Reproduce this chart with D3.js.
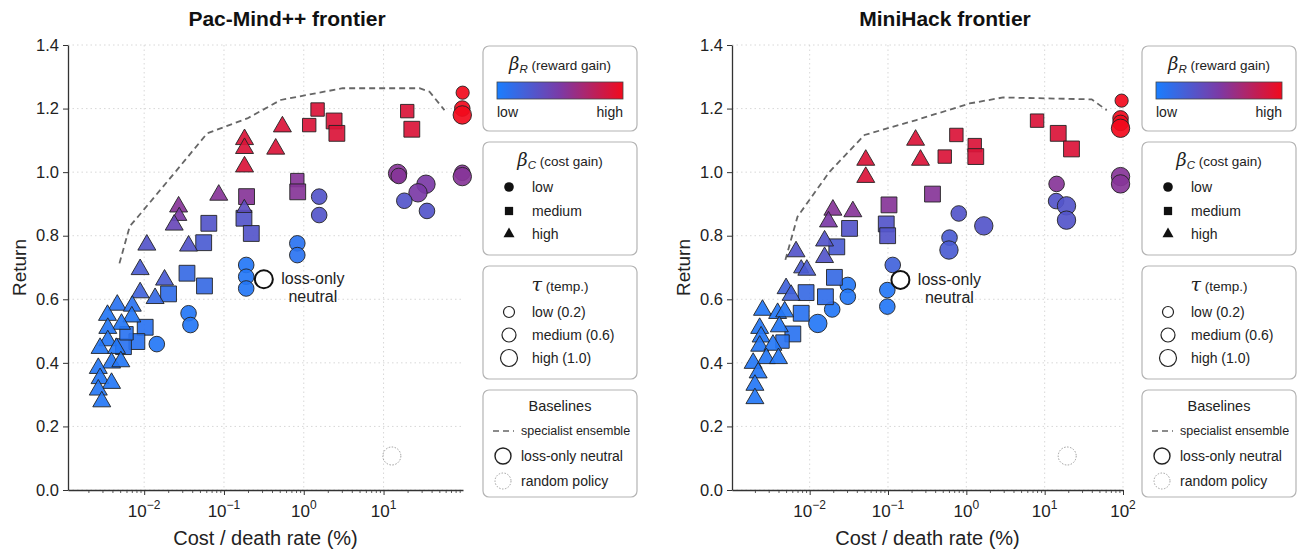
<!DOCTYPE html>
<html>
<head>
<meta charset="utf-8">
<script src="https://cdn.jsdelivr.net/npm/d3@7"></script>
<style>
  body { margin: 0; background: #fff; }
  svg { font-family: "Liberation Sans", Arial, sans-serif; }
</style>
</head>
<body>
<div id="chart"></div>
<script>
// ---- data ----
// shape: 0 circle, 1 square, 2 triangle ; col: beta_R level 0..1 ; tau: 0 low, 1 medium, 2 high
var pmCost  = [98, 97, 97, 97, 97, 15, 15.5, 34, 27, 18.2, 35, 1.56, 1.56, 0.83, 0.83, 0.19, 0.19, 0.19, 0.036, 0.038, 0.0144,
               19.8, 22.6, 1.49, 1.17, 2.4, 2.6, 0.83, 0.84, 0.192, 0.178, 0.22, 0.0646, 0.0557, 0.0344, 0.057, 0.0202, 0.0103, 0.0081, 0.0055, 0.006,
               0.54, 0.445, 0.181, 0.181, 0.181, 0.086, 0.027, 0.0275, 0.0238, 0.18, 0.0108, 0.036, 0.0089, 0.018, 0.0089, 0.0137, 0.0046, 0.0071,
               0.00347, 0.007, 0.0052, 0.0035, 0.0035, 0.0028, 0.0045, 0.0039, 0.0051, 0.00266, 0.0028, 0.0039, 0.00266, 0.00294];
var pmReturn = [1.25, 1.2, 1.18, 0.998, 0.986, 0.996, 0.988, 0.962, 0.935, 0.91, 0.878, 0.923, 0.865, 0.776, 0.739, 0.708, 0.671, 0.634, 0.556, 0.519, 0.459,
               1.192, 1.135, 1.197, 1.148, 1.161, 1.122, 0.975, 0.938, 0.923, 0.855, 0.807, 0.839, 0.778, 0.682, 0.642, 0.617, 0.512, 0.467, 0.451, 0.493,
               1.143, 1.073, 1.103, 1.075, 1.017, 0.928, 0.891, 0.862, 0.834, 0.887, 0.771, 0.768, 0.694, 0.661, 0.621, 0.603, 0.582, 0.579,
               0.55, 0.545, 0.522, 0.509, 0.47, 0.446, 0.446, 0.4, 0.404, 0.383, 0.351, 0.336, 0.315, 0.278];
var pmShape = [0,0,0,0,0,0,0,0,0,0,0,0,0,0,0,0,0,0,0,0,0,
               1,1,1,1,1,1,1,1,1,1,1,1,1,1,1,1,1,1,1,1,
               2,2,2,2,2,2,2,2,2,2,2,2,2,2,2,2,2,2,2,2,2,2,2,2,2,2,2,2,2,2,2,2];
var pmCol   = [1, 1, 1, 0.55, 0.55, 0.55, 0.55, 0.5, 0.5, 0.3, 0.3, 0.3, 0.3, 0.08, 0.08, 0.05, 0.05, 0.05, 0.05, 0.05, 0.05,
               0.9, 0.9, 0.9, 0.9, 0.9, 0.9, 0.55, 0.55, 0.55, 0.3, 0.3, 0.3, 0.25, 0.15, 0.15, 0.12, 0.08, 0.08, 0.08, 0.08,
               0.9, 0.9, 0.9, 0.9, 0.9, 0.55, 0.55, 0.5, 0.4, 0.35, 0.3, 0.3, 0.25, 0.25, 0.2, 0.15, 0.08, 0.08,
               0.05, 0.05, 0.05, 0.05, 0.05, 0.05, 0.05, 0.05, 0.05, 0.05, 0.05, 0.05, 0.05, 0.05];
var pmTau   = [0,1,2,1,2,2,1,2,2,1,1,1,1,1,1,1,1,1,1,1,1,
               1,2,1,1,2,2,1,2,2,2,2,2,2,2,2,2,2,2,2,1,
               1,1,1,1,1,1,1,0,1,0,1,1,1,1,1,1,1,1,1,1,1,1,1,1,1,1,1,1,1,1,1,1];

var mhCost  = [96, 93, 93, 93, 93, 93, 14.2, 14, 19, 19, 0.8, 1.67, 0.61, 0.6, 0.115, 0.098, 0.098, 0.0307, 0.0307, 0.0194, 0.0127,
               8.0, 14.9, 22, 0.746, 1.28, 1.32, 0.53, 0.37, 0.103, 0.095, 0.099, 0.0323, 0.0222, 0.0207, 0.009, 0.0159, 0.0078, 0.0061, 0.0045,
               0.225, 0.26, 0.052, 0.052, 0.0198, 0.0356, 0.0174, 0.0155, 0.0155, 0.0067, 0.0078, 0.0092, 0.005, 0.0058,
               0.0025, 0.0039, 0.0048, 0.0041, 0.0023, 0.0024, 0.0023, 0.0034, 0.0028, 0.004, 0.0019, 0.0022, 0.002, 0.002];
var mhReturn = [1.225, 1.169, 1.155, 1.138, 0.986, 0.963, 0.963, 0.909, 0.894, 0.849, 0.87, 0.831, 0.794, 0.755, 0.708, 0.629, 0.577, 0.645, 0.608, 0.568, 0.524,
               1.162, 1.122, 1.073, 1.117, 1.085, 1.049, 1.049, 0.931, 0.897, 0.837, 0.8, 0.823, 0.765, 0.669, 0.621, 0.608, 0.556, 0.491, 0.467,
               1.101, 1.038, 1.038, 0.984, 0.881, 0.876, 0.844, 0.784, 0.732, 0.75, 0.697, 0.692, 0.634, 0.613,
               0.566, 0.556, 0.561, 0.514, 0.509, 0.482, 0.453, 0.456, 0.414, 0.414, 0.399, 0.369, 0.33, 0.288];
var mhShape = [0,0,0,0,0,0,0,0,0,0,0,0,0,0,0,0,0,0,0,0,0,
               1,1,1,1,1,1,1,1,1,1,1,1,1,1,1,1,1,1,1,
               2,2,2,2,2,2,2,2,2,2,2,2,2,2,2,2,2,2,2,2,2,2,2,2,2,2,2,2];
var mhCol   = [1, 1, 1, 1, 0.55, 0.55, 0.55, 0.3, 0.3, 0.3, 0.3, 0.3, 0.25, 0.25, 0.2, 0.05, 0.05, 0.05, 0.05, 0.05, 0.05,
               0.9, 0.9, 0.9, 0.9, 0.9, 0.9, 0.9, 0.55, 0.55, 0.3, 0.3, 0.3, 0.25, 0.15, 0.15, 0.12, 0.08, 0.08, 0.08,
               0.9, 0.9, 0.9, 0.9, 0.55, 0.55, 0.5, 0.3, 0.3, 0.3, 0.25, 0.25, 0.2, 0.2,
               0.05, 0.05, 0.05, 0.05, 0.05, 0.05, 0.05, 0.05, 0.05, 0.05, 0.05, 0.05, 0.05, 0.05];
var mhTau   = [0,1,1,2,2,2,1,1,2,2,1,2,1,2,1,1,1,1,1,1,2,
               1,2,2,1,1,2,1,2,2,2,2,2,2,2,2,2,2,2,1,
               1,1,1,1,1,1,1,1,1,1,0,1,1,1,1,1,1,1,1,1,1,1,1,1,1,1,1,1];

// specialist ensemble (dashed)
var pmEnsCost   = [0.0049, 0.0066, 0.0085, 0.0258, 0.0615, 0.196, 0.514, 3.07, 28.2, 37.7, 58];
var pmEnsReturn = [0.713, 0.83, 0.862, 1.007, 1.122, 1.169, 1.227, 1.264, 1.264, 1.253, 1.195];
var mhEnsCost   = [0.0049, 0.007, 0.0179, 0.0502, 0.23, 1.1, 2.95, 39.8, 62];
var mhEnsReturn = [0.724, 0.86, 1.001, 1.117, 1.164, 1.216, 1.235, 1.229, 1.195];

// baselines [cost, return]
var pmNeutral = [0.316, 0.663], pmRandom = [12.7, 0.107];
var mhNeutral = [0.144, 0.661], mhRandom = [19.4, 0.107];

var yTicks = [0, 0.2, 0.4, 0.6, 0.8, 1.0, 1.2, 1.4];
var titles = ["Pac-Mind++ frontier", "MiniHack frontier"];

// ---- drawing ----
var W = 1299, H = 552;
var svg = d3.select("#chart").append("svg").attr("width", W).attr("height", H);

var color = d3.scaleLinear().domain([0, 0.5, 1]).range(["#1a7eff", "#7b3aa6", "#f20a1c"]).interpolate(d3.interpolateRgb);
var tauR = [6.6, 7.8, 9.2];

function sym(shape, r) {
  if (shape === 0) return d3.symbol(d3.symbolCircle, Math.PI * r * r)();
  if (shape === 1) return d3.symbol(d3.symbolSquare, Math.pow(1.72 * r, 2))();
  return d3.symbol(d3.symbolTriangle, 2.3 * r * r)();
}

var panels = [
  {left: 68, right: 463, dom: [0.00111, 99], majors: [0.01, 0.1, 1, 10], title: titles[0], titleX: 287, legX: 483,
   cost: pmCost, ret: pmReturn, shape: pmShape, col: pmCol, tau: pmTau,
   ensC: pmEnsCost, ensR: pmEnsReturn, neutral: pmNeutral, random: pmRandom},
  {left: 732, right: 1123, dom: [0.00102, 100], majors: [0.01, 0.1, 1, 10, 100], title: titles[1], titleX: 945, legX: 1142,
   cost: mhCost, ret: mhReturn, shape: mhShape, col: mhCol, tau: mhTau,
   ensC: mhEnsCost, ensR: mhEnsReturn, neutral: mhNeutral, random: mhRandom}
];
var plotTop = 45, plotBottom = 490;

panels.forEach(function(p) {
  var x = d3.scaleLog().domain(p.dom).range([p.left, p.right]);
  var y = d3.scaleLinear().domain([0, 1.4]).range([plotBottom, plotTop]);
  var g = svg.append("g");

  // grid
  g.selectAll(".gy").data(yTicks).enter().append("line")
    .attr("x1", p.left).attr("x2", p.right)
    .attr("y1", function(d) { return y(d); }).attr("y2", function(d) { return y(d); })
    .attr("stroke", "#d4d4d4").attr("stroke-width", 0.9).attr("stroke-dasharray", "1.5,3");
  g.selectAll(".gx").data(p.majors).enter().append("line")
    .attr("x1", function(d) { return x(d); }).attr("x2", function(d) { return x(d); })
    .attr("y1", plotTop).attr("y2", plotBottom)
    .attr("stroke", "#d4d4d4").attr("stroke-width", 0.9).attr("stroke-dasharray", "1.5,3");

  // minor x ticks
  var minors = [];
  for (var e = -3; e <= 1; e++) for (var k = 2; k <= 9; k++) {
    var v = k * Math.pow(10, e);
    if (v >= p.dom[0] && v <= p.dom[1]) minors.push(v);
  }
  var xMinor = g.append("g").attr("transform", "translate(0," + plotBottom + ")")
    .call(d3.axisBottom(x).tickValues(minors).tickFormat("").tickSize(3).tickSizeOuter(0));
  xMinor.select(".domain").remove();
  xMinor.selectAll("line").attr("stroke", "#333").attr("stroke-width", 0.8);

  // major x axis
  var xAx = g.append("g").attr("transform", "translate(0," + plotBottom + ")")
    .call(d3.axisBottom(x).tickValues(p.majors).tickFormat("").tickSize(5).tickSizeOuter(0));
  xAx.select(".domain").attr("stroke", "#333").attr("stroke-width", 1.3);
  xAx.selectAll("line").attr("stroke", "#333").attr("stroke-width", 1);
  p.majors.forEach(function(m) {
    var ex = Math.round(Math.log10(m));
    var t = g.append("text").attr("x", x(m)).attr("y", plotBottom + 27)
      .attr("text-anchor", "middle").attr("font-size", 17).attr("fill", "#222");
    t.append("tspan").text("10");
    t.append("tspan").attr("dy", -8).attr("font-size", 12).text(ex < 0 ? "\u2212" + (-ex) : String(ex));
  });

  // y axis
  var yAx = g.append("g").attr("transform", "translate(" + p.left + ",0)")
    .call(d3.axisLeft(y).tickValues(yTicks).tickFormat(d3.format(".1f")).tickSize(5).tickSizeOuter(0));
  yAx.select(".domain").attr("stroke", "#333").attr("stroke-width", 1.3);
  yAx.selectAll("line").attr("stroke", "#333");
  yAx.selectAll("text").attr("font-size", 16.5).attr("fill", "#222")
    .attr("font-family", "Liberation Sans, Arial, sans-serif").attr("dx", -1);

  // labels
  g.append("text").attr("transform", "translate(" + (p.left - 42) + "," + ((plotTop + plotBottom) / 2) + ") rotate(-90)")
    .attr("text-anchor", "middle").attr("font-size", 19).attr("fill", "#222").text("Return");
  g.append("text").attr("x", (p.left + p.right) / 2).attr("y", 545)
    .attr("text-anchor", "middle").attr("font-size", 20).attr("fill", "#222").text("Cost / death rate (%)");
  g.append("text").attr("x", p.titleX).attr("y", 26)
    .attr("text-anchor", "middle").attr("font-size", 21).attr("font-weight", "bold").attr("fill", "#111").text(p.title);

  // specialist ensemble
  var ens = p.ensC.map(function(c, i) { return [c, p.ensR[i]]; });
  g.append("path").datum(ens)
    .attr("d", d3.line().x(function(d) { return x(d[0]); }).y(function(d) { return y(d[1]); }))
    .attr("fill", "none").attr("stroke", "#666").attr("stroke-width", 1.8).attr("stroke-dasharray", "6,4");

  // points
  var pts = p.cost.map(function(c, i) {
    return {c: c, r: p.ret[i], s: p.shape[i], col: p.col[i], tau: p.tau[i]};
  });
  g.selectAll(".pt").data(pts).enter().append("path")
    .attr("transform", function(d) { return "translate(" + x(d.c) + "," + y(d.r) + ")"; })
    .attr("d", function(d) { return sym(d.s, tauR[d.tau]); })
    .attr("fill", function(d) { return color(d.col); })
    .attr("fill-opacity", 0.92)
    .attr("stroke", "#222").attr("stroke-width", 0.9);

  // baselines
  g.append("circle").attr("cx", x(p.neutral[0])).attr("cy", y(p.neutral[1])).attr("r", 9)
    .attr("fill", "#fff").attr("stroke", "#111").attr("stroke-width", 2);
  var lbl = g.append("text").attr("text-anchor", "middle").attr("font-size", 16).attr("fill", "#222");
  lbl.append("tspan").attr("x", x(p.neutral[0]) + 49).attr("y", y(p.neutral[1]) + 5).text("loss-only");
  lbl.append("tspan").attr("x", x(p.neutral[0]) + 49).attr("y", y(p.neutral[1]) + 23).text("neutral");
  g.append("circle").attr("cx", x(p.random[0])).attr("cy", y(p.random[1])).attr("r", 9)
    .attr("fill", "none").attr("stroke", "#9a9a9a").attr("stroke-width", 1).attr("stroke-dasharray", "1.5,1.5");

  // ---- legends ----
  var lx = p.legX, lw = 154, cx = lx + lw / 2;
  var boxes = [[46, 131], [142, 255], [266, 379], [390, 497]];
  var lg = svg.append("g");
  boxes.forEach(function(b) {
    lg.append("rect").attr("x", lx).attr("y", b[0]).attr("width", lw).attr("height", b[1] - b[0])
      .attr("rx", 6).attr("fill", "#fff").attr("stroke", "#b4b4b4").attr("stroke-width", 1.2);
  });

  // beta_R colour bar
  var t1 = lg.append("text").attr("x", cx).attr("y", 70).attr("text-anchor", "middle").attr("fill", "#222").attr("font-size", 13.5);
  t1.append("tspan").attr("font-style", "italic").attr("font-size", 18).attr("font-family", "DejaVu Serif, serif").text("\u03B2");
  t1.append("tspan").attr("font-style", "italic").attr("font-size", 11.5).attr("dy", 3).text("R");
  t1.append("tspan").attr("dy", -3).text(" (reward gain)");
  var gid = "grad" + lx;
  var grad = svg.append("defs").append("linearGradient").attr("id", gid);
  d3.range(0, 1.01, 0.1).forEach(function(v) {
    grad.append("stop").attr("offset", v).attr("stop-color", color(v));
  });
  lg.append("rect").attr("x", lx + 14).attr("y", 82).attr("width", 126).attr("height", 17)
    .attr("fill", "url(#" + gid + ")").attr("stroke", "#444").attr("stroke-width", 0.8);
  lg.append("text").attr("x", lx + 14).attr("y", 117).attr("font-size", 14).attr("fill", "#222").text("low");
  lg.append("text").attr("x", lx + 140).attr("y", 117).attr("text-anchor", "end").attr("font-size", 14).attr("fill", "#222").text("high");

  // beta_C shapes
  var t2 = lg.append("text").attr("x", cx).attr("y", 166).attr("text-anchor", "middle").attr("fill", "#222").attr("font-size", 13.5);
  t2.append("tspan").attr("font-style", "italic").attr("font-size", 18).attr("font-family", "DejaVu Serif, serif").text("\u03B2");
  t2.append("tspan").attr("font-style", "italic").attr("font-size", 11.5).attr("dy", 3).text("C");
  t2.append("tspan").attr("dy", -3).text(" (cost gain)");
  ["low", "medium", "high"].forEach(function(s, i) {
    var yy = [187, 211, 234][i];
    lg.append("path").attr("transform", "translate(" + (lx + 26) + "," + yy + ")")
      .attr("d", sym(i, 4.8)).attr("fill", "#111");
    lg.append("text").attr("x", lx + 49).attr("y", yy + 5).attr("font-size", 14).attr("fill", "#222").text(s);
  });

  // tau sizes
  var t3 = lg.append("text").attr("x", cx).attr("y", 291).attr("text-anchor", "middle").attr("fill", "#222").attr("font-size", 13.5);
  t3.append("tspan").attr("font-style", "italic").attr("font-size", 19).attr("font-family", "DejaVu Serif, serif").text("\u03C4");
  t3.append("tspan").text("  (temp.)");
  ["low (0.2)", "medium (0.6)", "high (1.0)"].forEach(function(s, i) {
    var yy = [312, 335, 358][i];
    lg.append("circle").attr("cx", lx + 26).attr("cy", yy).attr("r", [5.5, 7, 8.5][i])
      .attr("fill", "none").attr("stroke", "#222").attr("stroke-width", 1.2);
    lg.append("text").attr("x", lx + 49).attr("y", yy + 5).attr("font-size", 14).attr("fill", "#222").text(s);
  });

  // baselines legend
  lg.append("text").attr("x", cx).attr("y", 411).attr("text-anchor", "middle").attr("font-size", 14.5).attr("fill", "#222").text("Baselines");
  lg.append("line").attr("x1", lx + 10).attr("x2", lx + 31).attr("y1", 431).attr("y2", 431)
    .attr("stroke", "#666").attr("stroke-width", 1.6).attr("stroke-dasharray", "6,4");
  lg.append("text").attr("x", lx + 38).attr("y", 435).attr("font-size", 12.5).attr("fill", "#222").text("specialist ensemble");
  lg.append("circle").attr("cx", lx + 20).attr("cy", 456).attr("r", 8).attr("fill", "none").attr("stroke", "#222").attr("stroke-width", 1.4);
  lg.append("text").attr("x", lx + 38).attr("y", 461).attr("font-size", 14).attr("fill", "#222").text("loss-only neutral");
  lg.append("circle").attr("cx", lx + 20).attr("cy", 481).attr("r", 8).attr("fill", "none").attr("stroke", "#a0a0a0")
    .attr("stroke-width", 1).attr("stroke-dasharray", "1.5,1.5");
  lg.append("text").attr("x", lx + 38).attr("y", 486).attr("font-size", 14).attr("fill", "#222").text("random policy");
});
</script>
</body>
</html>
